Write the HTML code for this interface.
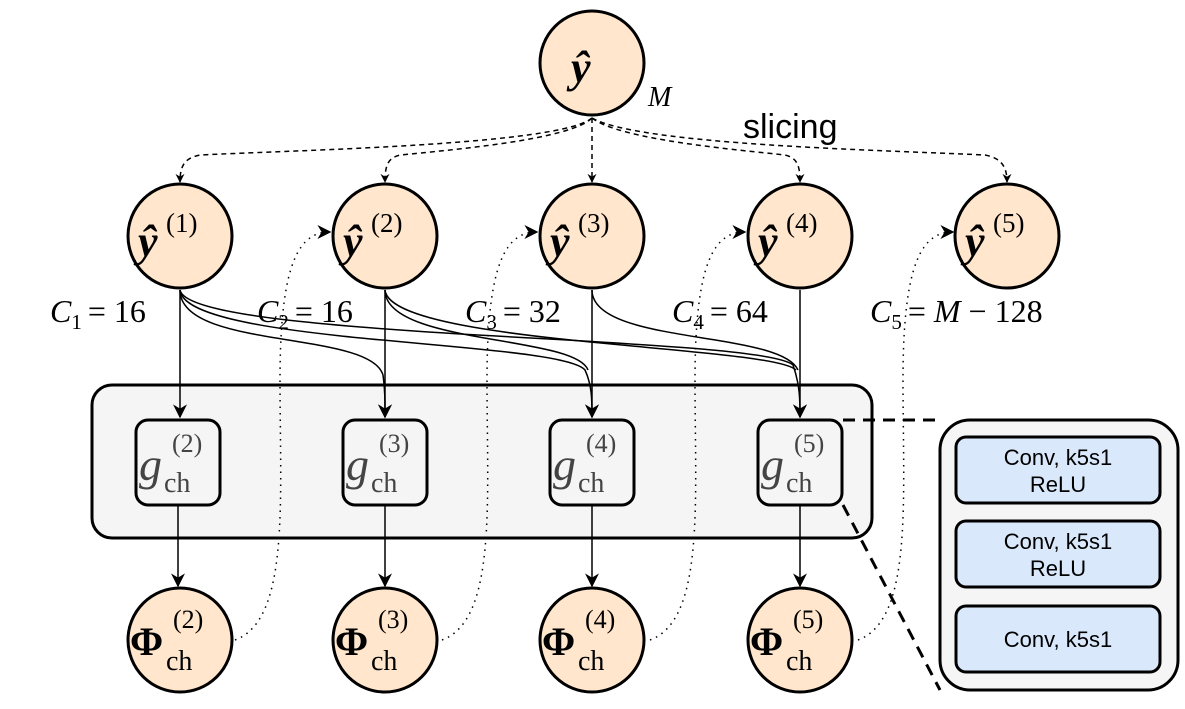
<!DOCTYPE html>
<html><head><meta charset="utf-8"><style>
html,body{margin:0;padding:0;background:#fff}
svg text{font-family:"Liberation Serif",serif}
.s{font-family:"Liberation Sans",sans-serif}
</style></head><body>
<svg width="1185" height="704" viewBox="0 0 1185 704" xmlns="http://www.w3.org/2000/svg">
<defs>
<marker id="a" viewBox="0 0 10 10" refX="9" refY="5" markerWidth="9" markerHeight="9" orient="auto" markerUnits="userSpaceOnUse">
<path d="M0,0 L10,5 L0,10 L3,5 Z" fill="#000"/></marker>
<marker id="b" viewBox="0 0 10 10" refX="9" refY="5" markerWidth="14" markerHeight="14" orient="auto" markerUnits="userSpaceOnUse">
<path d="M0,0 L10,5 L0,10 L3,5 Z" fill="#000"/></marker>
</defs>
<rect x="92" y="385" width="780" height="153" rx="20" fill="#f5f5f5" stroke="#000" stroke-width="3"/>
<g fill="none" stroke="#000" stroke-width="1.5" stroke-dasharray="5,4" marker-end="url(#a)">
<path d="M592,118 C560,145 300,150 200,155 C185,158 180,165 180,182"/>
<path d="M592,118 C570,140 450,150 400,155 C388,158 385,165 385,182"/>
<path d="M592,118 L592,182"/>
<path d="M592,118 C620,140 740,150 785,155 C797,158 800,165 800,182"/>
<path d="M592,118 C640,145 880,150 985,155 C1000,158 1007,165 1007,182"/>
</g>
<g fill="none" stroke="#000" stroke-width="1.5">
<path d="M180,290 C180,350 370,330 383,375 C385,390 385,400 385,417" marker-end="url(#b)"/>
<path d="M180,290 C185,345 560,340 585,370 C592,385 592,400 592,417" marker-end="url(#b)"/>
<path d="M180,290 C190,340 760,335 793,365 C800,385 800,400 800,417" marker-end="url(#b)"/>
<path d="M385,290 C385,345 575,335 588,370"/>
<path d="M385,290 C390,345 770,345 796,370"/>
<path d="M592,290 C592,345 780,330 798,370"/>
<path d="M180,290 L180,417" marker-end="url(#b)"/>
<path d="M385,290 L385,417" marker-end="url(#b)"/>
<path d="M592,290 L592,417" marker-end="url(#b)"/>
<path d="M800,290 L800,417" marker-end="url(#b)"/>
<path d="M178,505 L178,586" marker-end="url(#b)"/>
<path d="M385,505 L385,586" marker-end="url(#b)"/>
<path d="M592,505 L592,586" marker-end="url(#b)"/>
<path d="M800,505 L800,586" marker-end="url(#b)"/>
</g>
<g fill="none" stroke="#000" stroke-width="1.5" stroke-dasharray="1.5,5" marker-end="url(#b)">
<path d="M235,640 C290,620 280,500 280,380 C280,260 300,232 330,232"/>
<path d="M442,640 C497,620 487,500 487,380 C487,260 507,232 537,232"/>
<path d="M650,640 C705,620 695,500 695,380 C695,260 715,232 745,232"/>
<path d="M858,640 C913,620 903,500 903,380 C903,260 923,232 953,232"/>
</g>
<g stroke="#000" stroke-width="3" stroke-dasharray="12,8">
<line x1="843" y1="420" x2="935" y2="420"/>
<line x1="843" y1="505" x2="940" y2="690"/>
</g>
<g fill="#ffe6cc" stroke="#000" stroke-width="3">
<circle cx="592" cy="63" r="52"/>
<circle cx="180" cy="236" r="52"/><circle cx="385" cy="236" r="52"/><circle cx="592" cy="236" r="52"/><circle cx="800" cy="236" r="52"/><circle cx="1007" cy="236" r="52"/>
<circle cx="180" cy="640" r="52"/><circle cx="385" cy="640" r="52"/><circle cx="592" cy="640" r="52"/><circle cx="800" cy="640" r="52"/>
</g>
<g fill="#f5f5f5" stroke="#000" stroke-width="3">
<rect x="136" y="420" width="84" height="85" rx="12"/>
<rect x="343" y="420" width="84" height="85" rx="12"/>
<rect x="550" y="420" width="84" height="85" rx="12"/>
<rect x="758" y="420" width="84" height="85" rx="12"/>
</g>
<rect x="940" y="420" width="238" height="270" rx="30" fill="#f5f5f5" stroke="#000" stroke-width="3"/>
<g fill="#dae8fc" stroke="#000" stroke-width="3">
<rect x="956" y="437" width="204" height="66" rx="10"/>
<rect x="956" y="521" width="204" height="66" rx="10"/>
<rect x="956" y="606" width="204" height="66" rx="10"/>
</g>
<g font-size="22" text-anchor="middle" fill="#000">
<text x="1058" y="465" class="s">Conv, k5s1</text><text x="1058" y="492" class="s">ReLU</text>
<text x="1058" y="549" class="s">Conv, k5s1</text><text x="1058" y="576" class="s">ReLU</text>
<text x="1058" y="647" class="s">Conv, k5s1</text>
</g>
<text x="743" y="138" class="s" font-size="34">slicing</text>
<g fill="#000">
<text x="571" y="82" font-weight="bold" font-style="italic" font-size="44">ŷ</text>
<text x="648" y="106" font-style="italic" font-size="28">M</text>
<g font-weight="bold" font-style="italic" font-size="44">
<text x="138" y="256">ŷ</text><text x="343" y="256">ŷ</text><text x="550" y="256">ŷ</text><text x="758" y="256">ŷ</text><text x="965" y="256">ŷ</text>
</g>
<g font-size="27">
<text x="166" y="232">(1)</text><text x="371" y="232">(2)</text><text x="578" y="232">(3)</text><text x="786" y="232">(4)</text><text x="993" y="232">(5)</text>
</g>
<g font-size="32">
<text x="50" y="322"><tspan font-style="italic">C</tspan><tspan font-size="21" dy="7">1</tspan><tspan dy="-7" dx="6">= 16</tspan></text>
<text x="257" y="322"><tspan font-style="italic">C</tspan><tspan font-size="21" dy="7">2</tspan><tspan dy="-7" dx="6">= 16</tspan></text>
<text x="465" y="322"><tspan font-style="italic">C</tspan><tspan font-size="21" dy="7">3</tspan><tspan dy="-7" dx="6">= 32</tspan></text>
<text x="672" y="322"><tspan font-style="italic">C</tspan><tspan font-size="21" dy="7">4</tspan><tspan dy="-7" dx="6">= 64</tspan></text>
<text x="870" y="322"><tspan font-style="italic">C</tspan><tspan font-size="21" dy="7">5</tspan><tspan dy="-7" dx="6">= </tspan><tspan font-style="italic">M</tspan><tspan> − 128</tspan></text>
</g>
<g fill="#444">
<text x="139" y="480" font-style="italic" font-size="46">g</text><text x="164" y="492" font-size="28">ch</text><text x="172" y="452" font-size="26">(2)</text>
<text x="346" y="480" font-style="italic" font-size="46">g</text><text x="371" y="492" font-size="28">ch</text><text x="379" y="452" font-size="26">(3)</text>
<text x="553" y="480" font-style="italic" font-size="46">g</text><text x="578" y="492" font-size="28">ch</text><text x="586" y="452" font-size="26">(4)</text>
<text x="761" y="480" font-style="italic" font-size="46">g</text><text x="786" y="492" font-size="28">ch</text><text x="794" y="452" font-size="26">(5)</text>
</g>
<g>
<text x="130" y="655" font-weight="bold" font-size="40">Φ</text><text x="166" y="670" font-size="28">ch</text><text x="173" y="628" font-size="26">(2)</text>
<text x="335" y="655" font-weight="bold" font-size="40">Φ</text><text x="371" y="670" font-size="28">ch</text><text x="378" y="628" font-size="26">(3)</text>
<text x="542" y="655" font-weight="bold" font-size="40">Φ</text><text x="578" y="670" font-size="28">ch</text><text x="585" y="628" font-size="26">(4)</text>
<text x="750" y="655" font-weight="bold" font-size="40">Φ</text><text x="786" y="670" font-size="28">ch</text><text x="793" y="628" font-size="26">(5)</text>
</g>
</g>
</svg>
</body></html>
